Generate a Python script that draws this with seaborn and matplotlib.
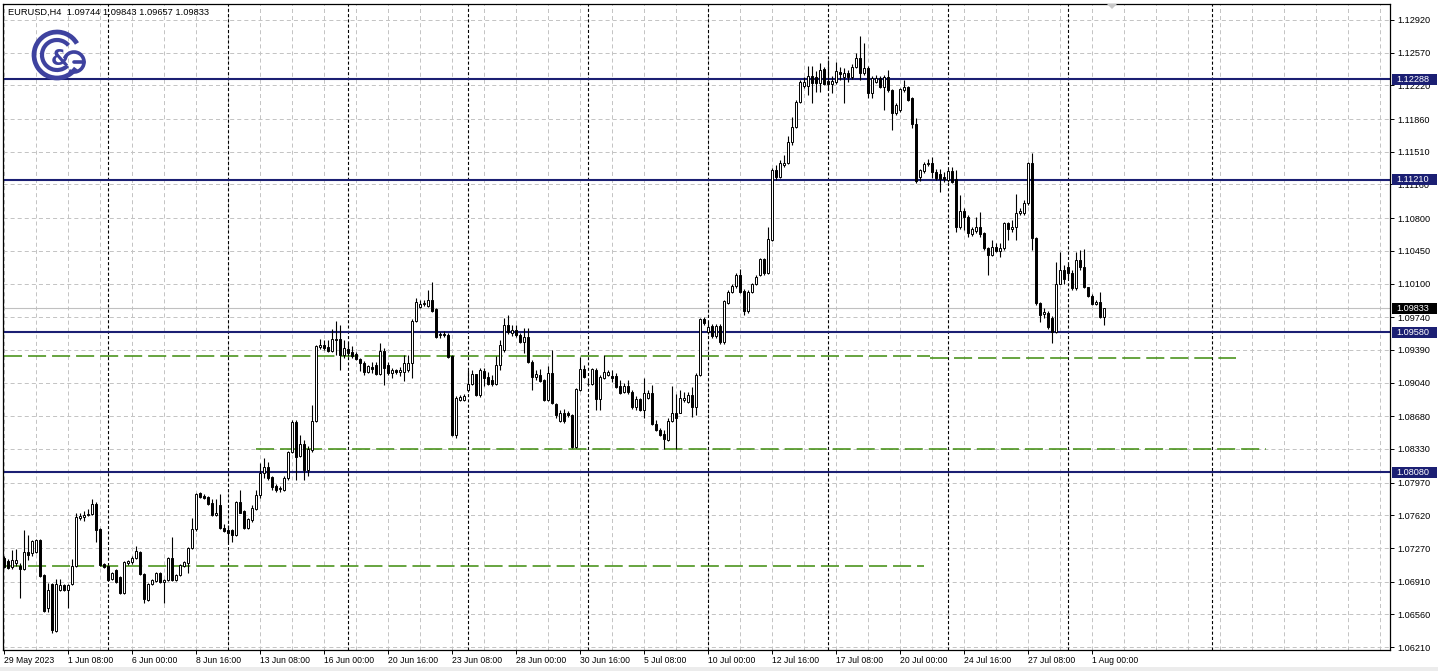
import numpy as np
import seaborn as sns
import matplotlib
matplotlib.use("Agg")
import matplotlib.pyplot as plt
import matplotlib.patches as mpatches
import matplotlib.transforms as mtransforms

# EURUSD H4 bars, first visible bar 29 May 2023 16:00 (index 0)
opens = [1.0716, 1.0713, 1.0707, 1.0711, 1.0708, 1.0705, 1.0723, 1.0722, 1.0723, 1.0736,
         1.0698, 1.0663, 1.0689, 1.0638, 1.0682, 1.0687, 1.0682, 1.0689, 1.0708, 1.0759,
         1.0760, 1.0762, 1.0763, 1.0774, 1.0747, 1.0710, 1.0708, 1.0694, 1.0704, 1.0696,
         1.0679, 1.0711, 1.0712, 1.0716, 1.0723, 1.0699, 1.0671, 1.0689, 1.0692, 1.0700,
         1.0691, 1.0693, 1.0716, 1.0693, 1.0698, 1.0708, 1.0711, 1.0727, 1.0747, 1.0786,
         1.0783, 1.0782, 1.0775, 1.0762, 1.0773, 1.0748, 1.0746, 1.0746, 1.0741, 1.0776,
         1.0767, 1.0748, 1.0757, 1.0769, 1.0784, 1.0807, 1.0814, 1.0803, 1.0793, 1.0790,
         1.0789, 1.0802, 1.0830, 1.0862, 1.0826, 1.0838, 1.0811, 1.0832, 1.0863, 1.0942,
         1.0944, 1.0942, 1.0938, 1.0950, 1.0951, 1.0934, 1.0940, 1.0937, 1.0935, 1.0929,
         1.0925, 1.0915, 1.0921, 1.0923, 1.0913, 1.0938, 1.0923, 1.0914, 1.0918, 1.0915,
         1.0915, 1.0918, 1.0925, 1.0970, 1.0985, 1.0988, 1.0986, 1.0992, 1.0983, 1.0955,
         1.0956, 1.0955, 1.0932, 1.0848, 1.0885, 1.0885, 1.0896, 1.0903, 1.0913, 1.0891,
         1.0916, 1.0910, 1.0907, 1.0902, 1.0923, 1.0939, 1.0966, 1.0957, 1.0960, 1.0955,
         1.0947, 1.0953, 1.0926, 1.0910, 1.0912, 1.0907, 1.0885, 1.0914, 1.0881, 1.0863,
         1.0871, 1.0871, 1.0869, 1.0835, 1.0896, 1.0919, 1.0903, 1.0902, 1.0918, 1.0886,
         1.0909, 1.0912, 1.0911, 1.0911, 1.0900, 1.0894, 1.0900, 1.0894, 1.0878, 1.0886,
         1.0875, 1.0888, 1.0893, 1.0860, 1.0853, 1.0849, 1.0843, 1.0863, 1.0872, 1.0872,
         1.0885, 1.0883, 1.0891, 1.0878, 1.0912, 1.0972, 1.0958, 1.0965, 1.0954, 1.0965,
         1.0947, 1.0989, 1.1001, 1.1007, 1.1019, 1.1002, 1.0981, 1.1001, 1.1009, 1.1019,
         1.1036, 1.1021, 1.1057, 1.1131, 1.1124, 1.1137, 1.1139, 1.1161, 1.1178, 1.1204,
         1.1221, 1.1221, 1.1232, 1.1231, 1.1225, 1.1240, 1.1227, 1.1224, 1.1226, 1.1236,
         1.1231, 1.1235, 1.1231, 1.1242, 1.1251, 1.1235, 1.1241, 1.1214, 1.1226, 1.1230,
         1.1220, 1.1231, 1.1217, 1.1192, 1.1196, 1.1217, 1.1220, 1.1209, 1.1181, 1.1124,
         1.1130, 1.1138, 1.1139, 1.1129, 1.1127, 1.1124, 1.1121, 1.1130, 1.1122, 1.1070,
         1.1088, 1.1081, 1.1063, 1.1066, 1.1070, 1.1064, 1.1048, 1.1041, 1.1049, 1.1045,
         1.1048, 1.1075, 1.1068, 1.1071, 1.1085, 1.1085, 1.1096, 1.1139, 1.1059, 1.0989,
         1.0977, 1.0979, 1.0973, 1.0958, 1.1010, 1.1025, 1.1028, 1.1021, 1.1005, 1.1035,
         1.1028, 1.1006, 1.0997, 1.0988, 1.0990, 1.09744]
highs = [1.0719, 1.0715, 1.0725, 1.0726, 1.0711, 1.0746, 1.0741, 1.0736, 1.0737, 1.0737,
         1.0699, 1.0690, 1.0690, 1.0694, 1.0694, 1.0689, 1.0689, 1.0715, 1.0764, 1.0764,
         1.0767, 1.0769, 1.0780, 1.0776, 1.0748, 1.0711, 1.0709, 1.0701, 1.0705, 1.0697,
         1.0713, 1.0714, 1.0719, 1.0729, 1.0724, 1.0700, 1.0690, 1.0694, 1.0701, 1.0701,
         1.0694, 1.0717, 1.0739, 1.0699, 1.0710, 1.0713, 1.0728, 1.0759, 1.0786, 1.0787,
         1.0785, 1.0783, 1.0780, 1.0780, 1.0785, 1.0753, 1.0752, 1.0747, 1.0777, 1.0789,
         1.0768, 1.0759, 1.0773, 1.0789, 1.0818, 1.0823, 1.0819, 1.0804, 1.0795, 1.0793,
         1.0804, 1.0831, 1.0864, 1.0864, 1.0848, 1.0843, 1.0836, 1.0880, 1.0944, 1.0951,
         1.0950, 1.0950, 1.0961, 1.0970, 1.0966, 1.0950, 1.0947, 1.0943, 1.0937, 1.0930,
         1.0927, 1.0923, 1.0926, 1.0926, 1.0946, 1.0941, 1.0926, 1.0920, 1.0919, 1.0921,
         1.0934, 1.0934, 1.0972, 1.0995, 1.0992, 1.0992, 1.1003, 1.1012, 1.0984, 1.0958,
         1.0959, 1.0957, 1.0934, 1.0890, 1.0891, 1.0892, 1.0918, 1.0918, 1.0913, 1.0920,
         1.0920, 1.0915, 1.0912, 1.0933, 1.0950, 1.0973, 1.0976, 1.0966, 1.0966, 1.0957,
         1.0962, 1.0962, 1.0928, 1.0918, 1.0919, 1.0908, 1.0922, 1.0939, 1.0882, 1.0875,
         1.0876, 1.0874, 1.0870, 1.0898, 1.0931, 1.0923, 1.0907, 1.0920, 1.0920, 1.0912,
         1.0934, 1.0918, 1.0918, 1.0914, 1.0907, 1.0904, 1.0907, 1.0896, 1.0890, 1.0888,
         1.0909, 1.0896, 1.0901, 1.0864, 1.0855, 1.0853, 1.0866, 1.0900, 1.0892, 1.0896,
         1.0894, 1.0894, 1.0899, 1.0914, 1.0973, 1.0974, 1.0969, 1.0967, 1.0967, 1.0967,
         1.0992, 1.1003, 1.1009, 1.1021, 1.1026, 1.1004, 1.1003, 1.1011, 1.1019, 1.1037,
         1.1037, 1.1071, 1.1134, 1.1137, 1.1142, 1.1147, 1.1168, 1.1188, 1.1206, 1.1228,
         1.1231, 1.1243, 1.1243, 1.1237, 1.1246, 1.1242, 1.1249, 1.1232, 1.1247, 1.1242,
         1.1241, 1.1238, 1.1245, 1.1257, 1.1275, 1.1267, 1.1243, 1.1232, 1.1233, 1.1232,
         1.1233, 1.1238, 1.1218, 1.1203, 1.1219, 1.1228, 1.1221, 1.1210, 1.1187, 1.1133,
         1.1140, 1.1143, 1.1145, 1.1133, 1.1133, 1.1129, 1.1133, 1.1135, 1.1131, 1.1105,
         1.1091, 1.1083, 1.1071, 1.1081, 1.1087, 1.1065, 1.1049, 1.1057, 1.1053, 1.1053,
         1.1076, 1.1076, 1.1078, 1.1106, 1.1091, 1.1099, 1.1140, 1.1150, 1.1060, 1.0990,
         1.0984, 1.0981, 1.0975, 1.1033, 1.1044, 1.1030, 1.1031, 1.1025, 1.1044, 1.1046,
         1.1047, 1.1006, 1.0999, 1.0992, 1.1001, 1.09843]
lows = [1.0706, 1.0705, 1.0705, 1.0708, 1.0674, 1.0704, 1.0714, 1.0719, 1.0722, 1.0696,
        1.0659, 1.0659, 1.0636, 1.0637, 1.0681, 1.0681, 1.0663, 1.0687, 1.0707, 1.0757,
        1.0756, 1.0761, 1.0762, 1.0733, 1.0708, 1.0706, 1.0692, 1.0693, 1.0690, 1.0678,
        1.0678, 1.0709, 1.0710, 1.0715, 1.0698, 1.0668, 1.0670, 1.0687, 1.0691, 1.0690,
        1.0668, 1.0692, 1.0692, 1.0692, 1.0697, 1.0707, 1.0700, 1.0726, 1.0745, 1.0781,
        1.0780, 1.0773, 1.0761, 1.0761, 1.0747, 1.0744, 1.0733, 1.0733, 1.0740, 1.0764,
        1.0747, 1.0747, 1.0755, 1.0768, 1.0781, 1.0802, 1.0800, 1.0789, 1.0787, 1.0787,
        1.0788, 1.0800, 1.0829, 1.0800, 1.0824, 1.0800, 1.0804, 1.0830, 1.0862, 1.0940,
        1.0939, 1.0937, 1.0937, 1.0934, 1.0918, 1.0930, 1.0932, 1.0930, 1.0928, 1.0916,
        1.0912, 1.0914, 1.0914, 1.0912, 1.0912, 1.0901, 1.0912, 1.0909, 1.0913, 1.0911,
        1.0906, 1.0915, 1.0909, 1.0969, 1.0984, 1.0986, 1.0985, 1.0980, 1.0952, 1.0952,
        1.0953, 1.0930, 1.0847, 1.0845, 1.0884, 1.0884, 1.0894, 1.0901, 1.0890, 1.0889,
        1.0900, 1.0901, 1.0900, 1.0901, 1.0918, 1.0937, 1.0956, 1.0954, 1.0953, 1.0946,
        1.0936, 1.0925, 1.0896, 1.0907, 1.0905, 1.0884, 1.0884, 1.0881, 1.0866, 1.0862,
        1.0861, 1.0867, 1.0834, 1.0834, 1.0895, 1.0909, 1.0901, 1.0901, 1.0875, 1.0875,
        1.0908, 1.0911, 1.0905, 1.0898, 1.0892, 1.0893, 1.0892, 1.0876, 1.0875, 1.0874,
        1.0866, 1.0886, 1.0859, 1.0852, 1.0847, 1.0833, 1.0841, 1.0862, 1.0833, 1.0871,
        1.0883, 1.0882, 1.0867, 1.0869, 1.0911, 1.0966, 1.0956, 1.0952, 1.0952, 1.0945,
        1.0945, 1.0988, 1.1000, 1.1005, 1.1000, 1.0976, 1.0978, 1.1000, 1.1008, 1.1018,
        1.1019, 1.1020, 1.1056, 1.1121, 1.1123, 1.1135, 1.1138, 1.1158, 1.1176, 1.1203,
        1.1219, 1.1212, 1.1203, 1.1215, 1.1215, 1.1222, 1.1217, 1.1214, 1.1224, 1.1228,
        1.1203, 1.1226, 1.1229, 1.1241, 1.1228, 1.1233, 1.1209, 1.1209, 1.1225, 1.1219,
        1.1196, 1.1215, 1.1174, 1.1190, 1.1194, 1.1215, 1.1205, 1.1176, 1.1118, 1.1120,
        1.1128, 1.1136, 1.1123, 1.1121, 1.1108, 1.1119, 1.1119, 1.1118, 1.1065, 1.1068,
        1.1067, 1.1060, 1.1061, 1.1064, 1.1060, 1.1046, 1.1019, 1.1039, 1.1044, 1.1038,
        1.1046, 1.1057, 1.1065, 1.1057, 1.1083, 1.1083, 1.1094, 1.1046, 1.0987, 1.0969,
        1.0973, 1.0961, 1.0946, 1.0957, 1.1009, 1.1009, 1.1016, 1.1003, 1.1003, 1.1025,
        1.1005, 1.0996, 1.0987, 1.0987, 1.0973, 1.09657]
closes = [1.0707, 1.0706, 1.0714, 1.0714, 1.0705, 1.0723, 1.0720, 1.0735, 1.0736, 1.0697,
          1.0660, 1.0682, 1.0639, 1.0689, 1.0687, 1.0682, 1.0687, 1.0708, 1.0760, 1.0761,
          1.0762, 1.0763, 1.0774, 1.0746, 1.0709, 1.0707, 1.0693, 1.0700, 1.0691, 1.0679,
          1.0712, 1.0713, 1.0716, 1.0724, 1.0699, 1.0672, 1.0689, 1.0693, 1.0700, 1.0691,
          1.0693, 1.0716, 1.0693, 1.0698, 1.0709, 1.0712, 1.0727, 1.0747, 1.0785, 1.0782,
          1.0781, 1.0774, 1.0762, 1.0765, 1.0748, 1.0745, 1.0743, 1.0741, 1.0776, 1.0765,
          1.0748, 1.0758, 1.0770, 1.0784, 1.0807, 1.0814, 1.0802, 1.0792, 1.0789, 1.0791,
          1.0802, 1.0830, 1.0862, 1.0824, 1.0838, 1.0811, 1.0833, 1.0863, 1.0943, 1.0944,
          1.0941, 1.0938, 1.0951, 1.0951, 1.0934, 1.0941, 1.0936, 1.0932, 1.0929, 1.0925,
          1.0915, 1.0922, 1.0919, 1.0913, 1.0938, 1.0920, 1.0914, 1.0918, 1.0915, 1.0918,
          1.0925, 1.0925, 1.0970, 1.0990, 1.0988, 1.0989, 1.0992, 1.0981, 1.0953, 1.0956,
          1.0955, 1.0931, 1.0848, 1.0888, 1.0889, 1.0890, 1.0903, 1.0913, 1.0891, 1.0918,
          1.0909, 1.0903, 1.0902, 1.0923, 1.0944, 1.0966, 1.0958, 1.0960, 1.0955, 1.0947,
          1.0953, 1.0926, 1.0910, 1.0913, 1.0906, 1.0885, 1.0914, 1.0882, 1.0869, 1.0871,
          1.0863, 1.0869, 1.0835, 1.0897, 1.0919, 1.0910, 1.0902, 1.0919, 1.0886, 1.0910,
          1.0915, 1.0915, 1.0909, 1.0899, 1.0893, 1.0900, 1.0894, 1.0878, 1.0886, 1.0875,
          1.0893, 1.0893, 1.0860, 1.0853, 1.0848, 1.0844, 1.0863, 1.0872, 1.0866, 1.0888,
          1.0888, 1.0891, 1.0878, 1.0912, 1.0972, 1.0968, 1.0964, 1.0954, 1.0965, 1.0947,
          1.0991, 1.1001, 1.1007, 1.1019, 1.1001, 1.0981, 1.1001, 1.1009, 1.1017, 1.1036,
          1.1021, 1.1058, 1.1131, 1.1124, 1.1139, 1.1139, 1.1161, 1.1178, 1.1204, 1.1226,
          1.1226, 1.1232, 1.1225, 1.1225, 1.1239, 1.1224, 1.1224, 1.1227, 1.1237, 1.1234,
          1.1235, 1.1231, 1.1242, 1.1251, 1.1235, 1.1241, 1.1214, 1.1230, 1.1230, 1.1220,
          1.1231, 1.1217, 1.1192, 1.1201, 1.1218, 1.1220, 1.1206, 1.1181, 1.1120, 1.1131,
          1.1138, 1.1139, 1.1129, 1.1123, 1.1122, 1.1122, 1.1130, 1.1119, 1.1070, 1.1088,
          1.1081, 1.1064, 1.1068, 1.1070, 1.1063, 1.1048, 1.1041, 1.1049, 1.1045, 1.1048,
          1.1075, 1.1068, 1.1071, 1.1085, 1.1088, 1.1096, 1.1139, 1.1059, 1.0989, 1.0976,
          1.0980, 1.0963, 1.0958, 1.1010, 1.1025, 1.1015, 1.1021, 1.1005, 1.1035, 1.1028,
          1.1006, 1.0997, 1.0988, 1.0990, 1.0974, 1.09833]

# time axis labels (bar index -> text)
xtick_pos = [0, 16, 32, 48, 64, 80, 96, 112, 128, 144, 160, 176, 192, 208, 224, 240, 256, 272]
xtick_labels = ["29 May 2023", "1 Jun 08:00", "6 Jun 00:00", "8 Jun 16:00", "13 Jun 08:00",
                "16 Jun 00:00", "20 Jun 16:00", "23 Jun 08:00", "28 Jun 00:00", "30 Jun 16:00",
                "5 Jul 08:00", "10 Jul 00:00", "12 Jul 16:00", "17 Jul 08:00", "20 Jul 00:00",
                "24 Jul 16:00", "27 Jul 08:00", "1 Aug 00:00"]
week_starts = [26, 56, 86, 116, 146, 176, 206, 236, 266, 302]

price_ticks = [1.12920, 1.12570, 1.12220, 1.11860, 1.11510, 1.11160, 1.10800, 1.10450,
               1.10100, 1.09740, 1.09390, 1.09040, 1.08680, 1.08330, 1.07970, 1.07620,
               1.07270, 1.06910, 1.06560, 1.06210]

# horizontal levels
levels = [1.12288, 1.11210, 1.09580, 1.08080]
# green dashed trend levels: (start bar, end bar, start price, end price)
green_x = [[0, 231.5], [231.5, 308], [63, 315.5], [0, 230]]
green_y = [[1.0933, 1.0933], [1.0930, 1.0930], [1.0833, 1.0833], [1.0708, 1.0708]]

navy = "#1b1f73"
green = "#3d8b0c"
logo_blue = "#3e429f"

sns.set_theme(style="white")
plt.rcParams["font.family"] = ["Liberation Sans", "DejaVu Sans"]
plt.rcParams["lines.scale_dashes"] = False

W, H = 1438, 671
fig = plt.figure(figsize=(W / 100, H / 100), dpi=100)
fig.patch.set_facecolor("white")
ax = fig.add_axes([3 / W, 21 / H, 1387 / W, 646 / H])
ax.set_facecolor("white")

n_bars = np.arange(len(closes))
o = np.array(opens)
c = np.array(closes)
up = c >= o

# grid
for p in price_ticks:
    ax.axhline(p, color="#c4c4c4", lw=0.72, ls=(0, (2.9, 2.2)), zorder=0)
for k in range(0, 347, 8):
    ax.axvline(k, color="#c4c4c4", lw=0.72, ls=(0, (2.9, 2.2)), zorder=0)
for k in week_starts:
    ax.axvline(k, color="black", lw=0.8, ls=(0, (2.2, 1.6)), zorder=0.5)

# bid line
ax.axhline(closes[-1], color="#c0c0c0", lw=0.8, zorder=0.6)

for gx, gy in zip(green_x, green_y):
    sns.lineplot(x=gx, y=gy, ax=ax, color=green, lw=1.1, linestyle=(0, (13, 4.3)),
                 zorder=0.8, legend=False)

for p in levels:
    ax.axhline(p, color=navy, lw=1.5, zorder=1)

# candles
ax.vlines(n_bars, lows, highs, color="black", lw=0.8, zorder=2)
ax.bar(n_bars, c - o, bottom=o, width=0.6, color=np.where(up, "white", "black"),
       edgecolor="black", linewidth=0.7, zorder=3)

ax.set_xlim(-0.25, 346.5)
ax.set_ylim(1.06179, 1.13091)
ax.set_xlabel("")
ax.set_ylabel("")

ax.yaxis.tick_right()
ax.set_yticks(price_ticks)
ax.set_yticklabels([f"{p:.5f}" for p in price_ticks])
ax.set_xticks(xtick_pos)
ax.set_xticklabels(xtick_labels, ha="left")
ax.tick_params(axis="y", right=True, left=False, length=3, width=0.7, pad=2.5,
               labelsize=6.6, colors="black")
ax.tick_params(axis="x", bottom=True, length=3, width=0.7, pad=1.5, labelsize=6.2,
               colors="black")
for s in ax.spines.values():
    s.set_color("black")
    s.set_linewidth(0.9)

# price boxes on the right scale
trans = mtransforms.blended_transform_factory(ax.transAxes, ax.transData)
box_h = 0.00118
for p, col in [(1.12288, navy), (1.11210, navy), (1.09580, navy), (1.08080, navy),
               (1.09833, "black")]:
    ax.add_patch(mpatches.Rectangle((1.0014, p - box_h / 2), 0.0324, box_h, transform=trans,
                                    facecolor=col, edgecolor="none", clip_on=False, zorder=6))
    ax.text(1.0043, p, f"{p:.5f}", transform=trans, color="white", fontsize=6.6,
            va="center", ha="left", zorder=7, clip_on=False)

# overlay in pixel coordinates for header, logo
ov = fig.add_axes([0, 0, 1, 1], zorder=10)
ov.set_xlim(0, W)
ov.set_ylim(H, 0)
ov.axis("off")
ov.patch.set_alpha(0)
ov.text(8, 12, "EURUSD,H4  1.09744 1.09843 1.09657 1.09833", fontsize=6.7,
        va="center", ha="left", color="black")
ov.add_patch(mpatches.Arc((57, 55), 46, 46, theta1=35, theta2=330, color=logo_blue, lw=3.4))
ov.add_patch(mpatches.Arc((57, 55), 30, 30, theta1=45, theta2=320, color=logo_blue, lw=3.0))
ov.text(60, 59, "&", fontsize=15, fontweight="bold", color=logo_blue, ha="center",
        va="center", family="DejaVu Sans")
ov.add_patch(mpatches.Arc((74, 62), 20, 20, theta1=-160, theta2=120, color=logo_blue, lw=2.6))
ov.plot([74, 84], [62, 62], color=logo_blue, lw=2.6)
ov.add_patch(mpatches.Polygon([(1107, 4), (1117, 4), (1112, 9)], closed=True,
                              facecolor="#c8c8c8", edgecolor="none"))
ov.add_patch(mpatches.Rectangle((0, 667), W, 4, facecolor="#ececec", edgecolor="none"))

fig.savefig("out.png", dpi=100)
